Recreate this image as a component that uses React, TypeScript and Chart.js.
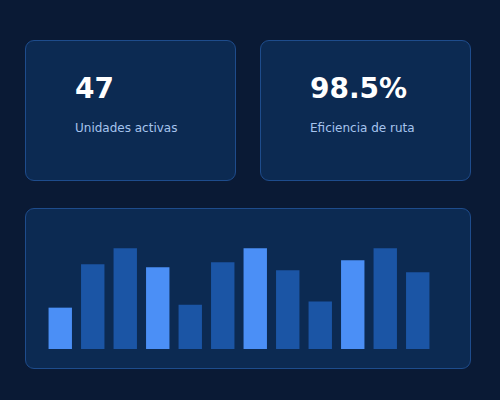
import { useEffect, useRef } from "react";
import { Chart, registerables } from "chart.js";

Chart.register(...registerables);

const hours = ["06h", "07h", "08h", "09h", "10h", "11h", "12h", "13h", "14h", "15h", "16h", "17h"];
const trips = [41, 84, 100, 81, 44, 86, 100, 78, 47, 88, 100, 76];
const highlight = [true, false, false, true, false, false, true, false, false, true, false, false];

const kpiValues = ["47", "98.5%"];
const kpiLabels = ["Unidades activas", "Eficiencia de ruta"];

const cardStyle: React.CSSProperties = {
  position: "absolute",
  boxSizing: "border-box",
  background: "#0c2a52",
  border: "1px solid #1e4c8c",
  borderRadius: 9,
};

export default function App() {
  const chartRef = useRef<HTMLCanvasElement>(null);
  const chartInstance = useRef<Chart | null>(null);

  useEffect(() => {
    if (!chartRef.current) return;
    if (chartInstance.current) chartInstance.current.destroy();

    const ctx = chartRef.current.getContext("2d");
    if (!ctx) return;

    chartInstance.current = new Chart(ctx, {
      type: "bar",
      data: {
        labels: hours,
        datasets: [{
          data: trips,
          backgroundColor: highlight.map(h => (h ? "#4b8ff6" : "#1b55a5")),
          borderWidth: 0,
        }],
      },
      options: {
        animation: false,
        responsive: true,
        maintainAspectRatio: false,
        layout: { padding: 0 },
        plugins: {
          legend: { display: false },
          tooltip: { enabled: false },
        },
        scales: {
          x: { display: false },
          y: { display: false, min: 0, max: 120 },
        },
      },
    });

    return () => {
      if (chartInstance.current) {
        chartInstance.current.destroy();
        chartInstance.current = null;
      }
    };
  }, []);

  return (
    <div style={{ position: "fixed", inset: 0, background: "#0a1a35", fontFamily: "'DejaVu Sans', sans-serif" }}>
      {kpiValues.map((v, i) => (
        <div key={v} style={{ ...cardStyle, left: 25 + i * 235, top: 40, width: 211, height: 141 }}>
          <div style={{ position: "absolute", left: 49, top: 34, fontSize: 28, lineHeight: "28px", fontWeight: "bold", color: "#ffffff" }}>
            {v}
          </div>
          <div style={{ position: "absolute", left: 49, top: 81, fontSize: 12, lineHeight: "12px", color: "#a6c4ee" }}>
            {kpiLabels[i]}
          </div>
        </div>
      ))}
      <div style={{ ...cardStyle, left: 25, top: 208, width: 446, height: 161 }} />
      <div style={{ position: "absolute", left: 44, top: 228, width: 390, height: 121 }}>
        <canvas ref={chartRef}></canvas>
      </div>
    </div>
  );
}
